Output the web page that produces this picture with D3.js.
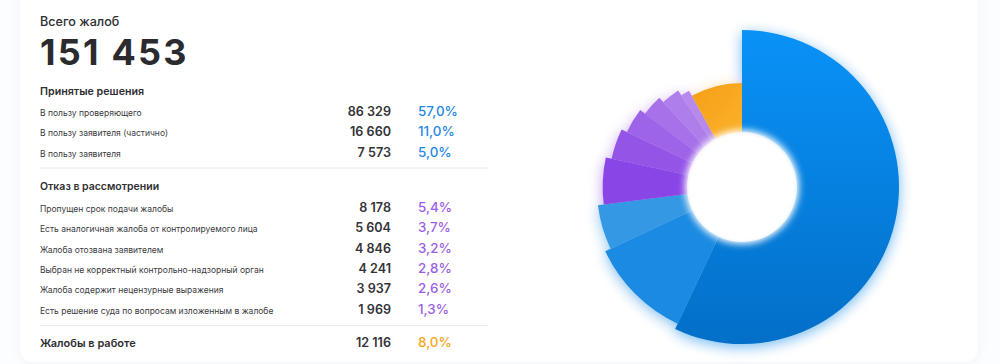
<!DOCTYPE html>
<html><head><meta charset="utf-8">
<script src="https://cdn.jsdelivr.net/npm/d3@7"></script>
<style>
html,body{margin:0;padding:0;background:#fcfdff;}
svg{display:block;font-family:Inter,"Noto Sans",sans-serif;}
</style></head>
<body>
<svg id="c" width="1000" height="364"></svg>
<script>
const totalLabel = "Всего жалоб";
const totalValue = "151 453";
const groupTitles = ["Принятые решения", "Отказ в рассмотрении", "Жалобы в работе"];
const categories = [
  "В пользу проверяющего",
  "В пользу заявителя (частично)",
  "В пользу заявителя",
  "Пропущен срок подачи жалобы",
  "Есть аналогичная жалоба от контролируемого лица",
  "Жалоба отозвана заявителем",
  "Выбран не корректный контрольно-надзорный орган",
  "Жалоба содержит нецензурные выражения",
  "Есть решение суда по вопросам изложенным в жалобе",
  "Жалобы в работе"
];
const groups = [0,0,0,1,1,1,1,1,1,2];
const values = [86329, 16660, 7573, 8178, 5604, 4846, 4241, 3937, 1969, 12116];
const valueLabels = ["86 329","16 660","7 573","8 178","5 604","4 846","4 241","3 937","1 969","12 116"];
const percentLabels = ["57,0%","11,0%","5,0%","5,4%","3,7%","3,2%","2,8%","2,6%","1,3%","8,0%"];
const sliceColors = ["#0682e6","#1a8ae2","#3498e4","#8a45e6","#9455e7","#9d63e8","#a671e9","#ae7eeb","#b58aec","#f7a51d"];
const groupColors = ["#1e88e5","#9b5ee6","#f5a623"];

const svg = d3.select("#c");
const defs = svg.append("defs");

// card
const cardShadow = defs.append("filter").attr("id","cardShadow").attr("x","-5%").attr("y","-5%").attr("width","110%").attr("height","110%");
cardShadow.append("feDropShadow").attr("dx",0).attr("dy",0).attr("stdDeviation",6).attr("flood-color","#2a3a70").attr("flood-opacity",0.05);
svg.append("rect").attr("x",20).attr("y",-20).attr("width",958).attr("height",382).attr("rx",14)
  .attr("fill","#ffffff").attr("filter","url(#cardShadow)");

// left texts
const L = 40, valueX = 391, pctX = 418;
svg.append("text").attr("x",L).attr("y",26).attr("font-size",12.6).attr("font-weight",500).attr("fill","#2f2f33").text(totalLabel);
svg.append("text").attr("x",L).attr("y",65).attr("font-size",36).attr("font-weight",700).attr("fill","#2b2b2f").attr("letter-spacing","2.2").text(totalValue);

const titleY = [95, 190, 347];
const rowY = [116, 136, 156.5, 211.5, 232, 252.7, 272.8, 293.3, 314, 347];
const sepY = [168, 325.7];

svg.append("text").attr("x",L).attr("y",titleY[0]).attr("font-size",10.7).attr("font-weight",600).attr("fill","#2f2f33").text(groupTitles[0]);
svg.append("text").attr("x",L).attr("y",titleY[1]).attr("font-size",10.5).attr("font-weight",600).attr("fill","#2f2f33").text(groupTitles[1]);

sepY.forEach(y => svg.append("line").attr("x1",L).attr("x2",488).attr("y1",y).attr("y2",y).attr("stroke","#e6eaf2").attr("stroke-width",1));

const rows = svg.append("g").selectAll("g").data(categories).join("g");
rows.filter((d,i)=>groups[i] !== 2).append("text").attr("x",L).attr("y",(d,i)=>rowY[i])
  .attr("font-size",8.5).attr("fill","#3a3a40").text(d=>d);
rows.filter((d,i)=>groups[i] === 2).append("text").attr("x",L).attr("y",(d,i)=>rowY[9])
  .attr("font-size",11).attr("font-weight",600).attr("fill","#2f2f33").text(d=>d);
rows.append("text").attr("x",valueX).attr("y",(d,i)=>rowY[i]).attr("text-anchor","end")
  .attr("font-size",12.6).attr("font-weight",600).attr("fill","#333338").text((d,i)=>valueLabels[i]);
rows.append("text").attr("x",pctX).attr("y",(d,i)=>rowY[i])
  .attr("font-size",13.4).attr("font-weight",500).attr("fill",(d,i)=>groupColors[groups[i]]).text((d,i)=>percentLabels[i]);

// pie
const cx = 742, cy = 187;
const rScale = d3.scaleLinear().domain([0, values.length-1]).range([157, 104]);
const innerR = 55;
const pie = d3.pie().sort(null).value(d=>d).startAngle(0).endAngle(2*Math.PI);
const arcs = pie(values);
const arc = d3.arc().innerRadius(innerR).outerRadius((d)=>rScale(d.index));

// gradients
const g0 = defs.append("linearGradient").attr("id","gBlue").attr("gradientUnits","userSpaceOnUse")
  .attr("x1",0).attr("y1",-157).attr("x2",0).attr("y2",157);
g0.append("stop").attr("offset",0).attr("stop-color","#0992f7");
g0.append("stop").attr("offset",1).attr("stop-color","#036fc8");
const gO = defs.append("linearGradient").attr("id","gOrange").attr("x1",0).attr("y1",0).attr("x2",1).attr("y2",1);
gO.append("stop").attr("offset",0).attr("stop-color","#f59f15");
gO.append("stop").attr("offset",1).attr("stop-color","#fbb22c");
const fillFor = (d)=> d.index===0 ? "url(#gBlue)" : (d.index===9 ? "url(#gOrange)" : sliceColors[d.index]);

const glow = defs.append("filter").attr("id","glow").attr("x","-30%").attr("y","-30%").attr("width","160%").attr("height","160%");
glow.append("feGaussianBlur").attr("stdDeviation",7);
const holeBlur = defs.append("filter").attr("id","holeBlur").attr("x","-50%").attr("y","-50%").attr("width","200%").attr("height","200%");
holeBlur.append("feGaussianBlur").attr("stdDeviation",3.5);

const pg = svg.append("g").attr("transform",`translate(${cx},${cy})`);
pg.append("g").attr("filter","url(#glow)").attr("opacity",0.55).attr("transform","translate(0,3)")
  .selectAll("path").data(arcs).join("path").attr("d",arc).attr("fill",d=>sliceColors[d.index]);
pg.append("g").selectAll("path").data(arcs).join("path").attr("d",arc).attr("fill",fillFor);
pg.append("circle").attr("r",innerR+2).attr("fill","#ffffff").attr("filter","url(#holeBlur)");
pg.append("circle").attr("r",innerR-3).attr("fill","#ffffff");
</script>
</body></html>
